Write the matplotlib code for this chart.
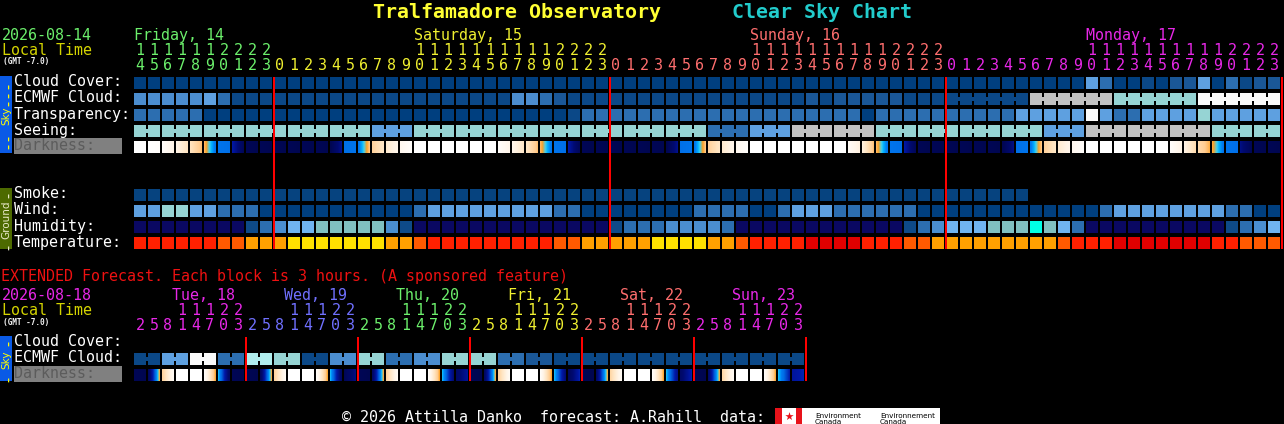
import numpy as np
import matplotlib
matplotlib.use('Agg')
import matplotlib.pyplot as plt
from matplotlib.patches import Rectangle
from matplotlib.colors import LinearSegmentedColormap

MONO = 'DejaVu Sans Mono'
FS = 10.8

# ---------------- main chart: one block per hour, Fri 14h .. Mon 23h ----------------
day_names = ['Friday, 14', 'Saturday, 15', 'Sunday, 16', 'Monday, 17']
day_colors = ['#6cf06c', '#f0f030', '#ff6e6e', '#e828e8']
day_hours = [list(range(14, 24)), list(range(24)), list(range(24)), list(range(24))]

# cloud levels 0 (clear) .. 10 (overcast)
cloud_cover = [
    0, 0, 0, 0, 0, 0, 0, 0, 0, 0,
    0, 0, 0, 0, 0, 0, 0, 0, 0, 0, 0, 0, 0, 0, 0, 0, 0, 0, 0, 0, 0, 0, 0, 0,
    0, 0, 0, 0, 0, 0, 0, 0, 0, 0, 0, 0, 0, 0, 0, 0, 0, 0, 0, 0, 0, 0, 0, 0,
    0, 0, 0, 0, 0, 0, 0, 0, 0, 0, 5, 3, 0, 0, 1, 0, 2, 2, 5, 0, 3, 1, 2, 2,
]
ecmwf_cloud = [
    4, 4, 4, 4, 4, 5, 3, 1, 1, 1,
    1, 1, 1, 1, 1, 1, 1, 1, 1, 1, 1, 1, 1, 1, 1, 1, 1, 4, 4, 3, 2, 1, 1, 1,
    1, 1, 1, 1, 1, 1, 1, 1, 1, 1, 1, 1, 1, 1, 2, 1, 2, 2, 2, 2, 2, 1, 1, 1,
    1, 1, 1, 1, 1, 1, 9, 9, 9, 9, 9, 9, 7, 7, 7, 7, 7, 7, 10, 10, 10, 10, 10, 10,
]
ecmwf_runs = [1] * 58 + [6, 6, 6, 6]
transparency = [
    3, 3, 3, 3, 3, 0, 0, 0, 0, 0,
    0, 0, 0, 0, 0, 0, 0, 0, 0, 0, 0, 0, 0, 0, 0, 0, 0, 0, 0, 0, 0, 1, 3, 3,
    3, 3, 3, 3, 3, 3, 3, 3, 3, 3, 3, 3, 3, 3, 3, 3, 3, 3, 0, 3, 3, 3, 3, 3,
    3, 3, 3, 3, 3, 5, 5, 5, 5, 5, 10, 5, 3, 3, 5, 5, 5, 5, 7, 5, 5, 5, 5, 5,
]
seeing = [
    7, 7, 7, 7, 7, 7, 7, 7, 7, 7,
    7, 7, 7, 7, 7, 7, 7, 5, 5, 5, 7, 7, 7, 7, 7, 7, 7, 7, 7, 7, 7, 7, 7, 7,
    7, 7, 7, 7, 7, 7, 7, 3, 3, 3, 5, 5, 5, 9, 9, 9, 9, 9, 9, 7, 7, 7, 7, 7,
    7, 7, 7, 7, 7, 7, 7, 5, 5, 5, 9, 9, 9, 9, 9, 9, 9, 9, 9, 7, 7, 7, 7, 7,
]
seeing_runs = [2] + [3] * 26 + [2]

# darkness: (start, end) of each hour block, 0 = daylight .. 1 = full dark
darkness = [
    (0, 0), (0, 0.02), (0.03, 0.12), (0.12, 0.22), (0.22, 0.34), (0.34, 0.56),
    (0.56, 0.58), (0.72, 0.96), (0.97, 1), (0.97, 1),
    (0.97, 1), (0.97, 1), (0.97, 1), (0.97, 1), (1, 0.78), (0.58, 0.56),
    (0.56, 0.32), (0.3, 0.2), (0.18, 0.1), (0.08, 0.02), (0, 0), (0, 0),
    (0, 0), (0, 0), (0, 0), (0, 0), (0.02, 0.1), (0.1, 0.2), (0.2, 0.34),
    (0.34, 0.56), (0.56, 0.58), (0.72, 0.96), (0.97, 1), (0.97, 1),
    (0.97, 1), (0.97, 1), (0.97, 1), (0.97, 1), (1, 0.78), (0.58, 0.56),
    (0.56, 0.32), (0.3, 0.2), (0.18, 0.1), (0.08, 0.02), (0, 0), (0, 0),
    (0, 0), (0, 0), (0, 0), (0, 0), (0, 0), (0.04, 0.14), (0.14, 0.34),
    (0.34, 0.56), (0.56, 0.58), (0.72, 0.96), (0.97, 1), (0.97, 1),
    (0.97, 1), (0.97, 1), (0.97, 1), (0.97, 1), (1, 0.8), (0.58, 0.56),
    (0.56, 0.32), (0.3, 0.2), (0.18, 0.1), (0.08, 0.02), (0, 0), (0, 0),
    (0, 0), (0, 0), (0, 0), (0, 0), (0.02, 0.12), (0.12, 0.26), (0.26, 0.36),
    (0.36, 0.56), (0.56, 0.58), (0.8, 0.97), (0.97, 1), (0.97, 1),
]

smoke = [
    1, 1, 1, 1, 1, 1, 1, 1, 1, 1,
    1, 1, 1, 1, 1, 1, 1, 1, 1, 1, 1, 1, 1, 1, 1, 1, 1, 1, 1, 1, 1, 1, 1, 1,
    1, 1, 1, 1, 1, 1, 1, 1, 1, 1, 1, 1, 1, 1, 1, 1, 1, 1, 1, 1, 1, 1, 1, 1,
    1, 1, 1, 1, 1, 1,
]
wind = [
    2, 2, 3, 3, 2, 2, 1, 1, 1, 0,
    0, 0, 0, 0, 0, 0, 0, 0, 0, 0, 1, 2, 2, 2, 2, 2, 2, 2, 2, 2, 1, 1, 0, 0,
    0, 0, 0, 0, 0, 0, 1, 1, 1, 1, 0, 0, 1, 2, 2, 2, 1, 1, 1, 1, 1, 1, 0, 0,
    0, 0, 0, 0, 0, 0, 0, 0, 0, 0, 0, 1, 2, 2, 2, 2, 2, 2, 2, 2, 1, 1, 0, 0,
]
humidity = [
    0, 0, 0, 0, 0, 0, 0, 0, 1, 2,
    3, 4, 4, 5, 5, 5, 5, 5, 3, 1, 0, 0, 0, 0, 0, 0, 0, 0, 0, 0, 0, 0, 0, 0,
    1, 2, 2, 2, 3, 3, 3, 3, 2, 0, 0, 0, 0, 0, 0, 0, 0, 0, 0, 0, 0, 1, 2, 3,
    4, 4, 4, 5, 5, 5, 6, 5, 4, 2, 0, 0, 0, 0, 0, 0, 0, 0, 0, 0, 1, 2, 3, 4,
]
temperature = [
    1, 1, 1, 1, 1, 1, 2, 2, 3, 3,
    3, 4, 4, 4, 4, 4, 4, 4, 3, 3, 2, 1, 1, 1, 1, 1, 1, 1, 1, 1, 2, 2, 3, 3,
    3, 3, 3, 4, 4, 4, 4, 3, 3, 2, 1, 1, 1, 1, 0, 0, 0, 0, 1, 1, 1, 2, 2, 3,
    3, 3, 3, 3, 3, 3, 3, 3, 2, 1, 1, 1, 0, 0, 0, 0, 0, 0, 0, 1, 1, 2, 2, 2,
]

# ---------------- extended chart: one block per 3 hours ----------------
ext_day_names = ['Tue, 18', 'Wed, 19', 'Thu, 20', 'Fri, 21', 'Sat, 22', 'Sun, 23']
ext_day_colors = ['#e828e8', '#7070ff', '#6cf06c', '#f0f030', '#ff6e6e', '#e828e8']
ext_hours = [2, 5, 8, 11, 14, 17, 20, 23]
ext_ecmwf_6h = [1, 5, 10, 3, 8, 7, 1, 4, 7, 3, 4, 7, 7, 3, 2, 1, 1, 1, 1, 1, 1, 1, 1, 1]
ext_darkness = [
    (0.97, 1), (0.95, 0.36), (0.3, 0.05), (0, 0), (0, 0), (0.02, 0.38), (0.46, 0.92), (0.97, 1),
    (0.97, 1), (0.95, 0.36), (0.3, 0.05), (0, 0), (0, 0), (0.02, 0.38), (0.46, 0.92), (0.97, 0.8),
    (0.97, 1), (0.93, 0.36), (0.3, 0.05), (0, 0), (0, 0), (0.02, 0.38), (0.46, 0.85), (0.9, 0.75),
    (0.97, 1), (0.93, 0.36), (0.3, 0.05), (0, 0), (0, 0), (0.02, 0.38), (0.46, 0.85), (0.95, 0.7),
    (0.97, 1), (0.9, 0.36), (0.28, 0.05), (0, 0), (0, 0), (0.02, 0.38), (0.46, 0.8), (0.9, 0.7),
    (0.97, 1), (0.9, 0.36), (0.28, 0.05), (0, 0), (0, 0), (0.02, 0.38), (0.46, 0.72), (0.75, 0.7),
]

# ---------------- palettes ----------------
cloud_pal = ['#003f7f', '#0b4887', '#1a5797', '#2c6eb0', '#4b8dcf', '#5ea0e0',
             '#79b4e6', '#96d4d4', '#b0eeee', '#c2c2c2', '#fafafa']
smoke_pal = ['#003f7f', '#06437f']
wind_pal = ['#003f7f', '#2c6eb0', '#5ea0e0', '#96d4d4']
hum_pal = ['#0a0862', '#0e4a88', '#2c6eb0', '#4a8ed0', '#70b4f0', '#80c0c0', '#00ffe6']
temp_pal = ['#e00000', '#ff2000', '#ff5a00', '#ffa000', '#ffe000']
dark_cmap = LinearSegmentedColormap.from_list('dark', [
    (0.00, '#ffffff'), (0.12, '#fff4e6'), (0.22, '#ffe4c0'), (0.32, '#ffcc90'),
    (0.38, '#ffa020'), (0.44, '#40d0f0'), (0.48, '#00b0ff'), (0.54, '#0078f0'),
    (0.58, '#0070e8'), (0.72, '#0018a8'), (0.85, '#000a70'), (1.00, '#000650')])

X0, PITCH, CELL = 134, 14, 12
ROW0, RPITCH = 77, 16
EXT_ROW0 = 337


def col_x(k):
    return X0 + k * PITCH


fig = plt.figure(figsize=(12.84, 4.24), dpi=100, facecolor='black')
ax = fig.add_axes([0, 0, 1, 1])
ax.set_facecolor('black')


def txt(x, y, s, color='white', size=FS, **kw):
    kw.setdefault('family', MONO)
    kw.setdefault('va', 'baseline')
    ax.text(x, y, s, color=color, fontsize=size, **kw)


def draw_cells(values, palette, top, runs=None):
    if runs is None:
        runs = [1] * len(values)
    k = 0
    for n in runs:
        for i in range(k, k + n):
            if i >= len(values):
                continue
            c = palette[values[i]]
            ax.add_patch(Rectangle((col_x(i), top), CELL, CELL, color=c, lw=0))
            if i < k + n - 1:
                ax.add_patch(Rectangle((col_x(i) + CELL, top + 4), PITCH - CELL, 4, color=c, lw=0))
        k += n


def draw_dark(blocks, top):
    for i, (a, b) in enumerate(blocks):
        grad = np.linspace(a, b, 24).reshape(1, -1)
        ax.imshow(grad, cmap=dark_cmap, vmin=0, vmax=1, aspect='auto', interpolation='bilinear',
                  extent=(col_x(i), col_x(i) + CELL, top + CELL, top))


# title
txt(373, 18.5, 'Tralfamadore Observatory', '#ffff33', 14.3, weight='bold')
txt(732, 18.5, 'Clear Sky Chart', '#22cccc', 14.3, weight='bold')

# main header
txt(2, 40, '2026-08-14', day_colors[0])
txt(2, 55, 'Local Time', '#d4d400')
txt(3, 64, '(GMT -7.0)', '#f0f0f0', 5.6, weight='bold')
k = 0
for name, color, hours in zip(day_names, day_colors, day_hours):
    first = next((j for j, h in enumerate(hours) if h >= 10), 0)
    txt(col_x(k + first), 40, name, color)
    for j, h in enumerate(hours):
        cx = col_x(k + j) + CELL / 2
        if h >= 10:
            txt(cx, 55, str(h // 10), color, ha='center')
        txt(cx, 70, str(h % 10), color, ha='center')
    k += len(hours)

# main rows
labels = ['Cloud Cover:', 'ECMWF Cloud:', 'Transparency:', 'Seeing:']
for r, lab in enumerate(labels):
    txt(14, ROW0 + r * RPITCH + 9.5, lab)
ax.add_patch(Rectangle((14, ROW0 + 4 * RPITCH - 3), 108, 15.5, color='#808080', lw=0))
txt(14, ROW0 + 4 * RPITCH + 9.5, 'Darkness:', '#5c5c5c')
for r, lab in zip([7, 8, 9, 10], ['Smoke:', 'Wind:', 'Humidity:', 'Temperature:']):
    txt(14, ROW0 + r * RPITCH + 9.5, lab)

draw_cells(cloud_cover, cloud_pal, ROW0)
draw_cells(ecmwf_cloud, cloud_pal, ROW0 + RPITCH, ecmwf_runs)
draw_cells(transparency, cloud_pal, ROW0 + 2 * RPITCH)
draw_cells(seeing, cloud_pal, ROW0 + 3 * RPITCH, seeing_runs)
draw_dark(darkness, ROW0 + 4 * RPITCH)
draw_cells(smoke, smoke_pal, ROW0 + 7 * RPITCH)
draw_cells(wind, wind_pal, ROW0 + 8 * RPITCH)
draw_cells(humidity, hum_pal, ROW0 + 9 * RPITCH)
draw_cells(temperature, temp_pal, ROW0 + 10 * RPITCH)

# side tags
ax.add_patch(Rectangle((0, 76), 12, 77, color='#0a5ae6', lw=0))
txt(6.5, 93, '---', '#ffff00', rotation=90, ha='center', va='center')
txt(6.5, 115.5, 'Sky', '#ffff00', 7.5, family='DejaVu Sans', rotation=90, ha='center', va='center')
txt(6.5, 140, '--', '#ffff00', rotation=90, ha='center', va='center')
ax.add_patch(Rectangle((0, 188), 12, 61, color='#4d6a00', lw=0))
txt(6.5, 193, '-', '#e8e8c8', rotation=90, ha='center', va='center')
txt(6.5, 220, 'Ground', '#e8e8c8', 7.5, family='DejaVu Sans', rotation=90, ha='center', va='center')
txt(6.5, 245.5, '-', '#e8e8c8', rotation=90, ha='center', va='center')

# midnight lines
k = 0
for hours in day_hours:
    k += len(hours)
    ax.add_patch(Rectangle((col_x(k) - 1.3, ROW0), 2.6, 172, color='#ff0000', lw=0))

# extended section
txt(1, 281, 'EXTENDED Forecast. Each block is 3 hours. (A sponsored feature)', '#ee1111')
txt(2, 300, '2026-08-18', ext_day_colors[0])
txt(2, 315, 'Local Time', '#d4d400')
txt(3, 325, '(GMT -7.0)', '#f0f0f0', 5.6, weight='bold')
for d, (name, color) in enumerate(zip(ext_day_names, ext_day_colors)):
    k = d * len(ext_hours)
    txt(col_x(k + 3) - 4.5, 300, name, color)
    for j, h in enumerate(ext_hours):
        cx = col_x(k + j) + CELL / 2
        if h >= 10:
            txt(cx, 315, str(h // 10), color, ha='center')
        txt(cx, 330.5, str(h % 10), color, ha='center')

txt(14, EXT_ROW0 + 9.5, 'Cloud Cover:')
txt(14, EXT_ROW0 + RPITCH + 9.5, 'ECMWF Cloud:')
ax.add_patch(Rectangle((14, EXT_ROW0 + 2 * RPITCH - 3), 108, 15.5, color='#808080', lw=0))
txt(14, EXT_ROW0 + 2 * RPITCH + 9.5, 'Darkness:', '#5c5c5c')

ext_ecmwf = [v for v in ext_ecmwf_6h for _ in range(2)]
draw_cells(ext_ecmwf, cloud_pal, EXT_ROW0 + RPITCH, [2] * len(ext_ecmwf_6h))
draw_dark(ext_darkness, EXT_ROW0 + 2 * RPITCH)

ax.add_patch(Rectangle((0, 336), 12, 45, color='#0a5ae6', lw=0))
txt(6.5, 341.5, '-', '#ffff00', rotation=90, ha='center', va='center')
txt(6.5, 359.5, 'Sky', '#ffff00', 7.5, family='DejaVu Sans', rotation=90, ha='center', va='center')
txt(6.5, 377, '-', '#ffff00', rotation=90, ha='center', va='center')

for d in range(1, len(ext_day_names) + 1):
    ax.add_patch(Rectangle((col_x(d * len(ext_hours)) - 1.3, EXT_ROW0), 2.6, 44, color='#ff0000', lw=0))

# footer
txt(342, 422, '\u00a9 2026 Attilla Danko  forecast: A.Rahill  data:')
ax.add_patch(Rectangle((775, 408), 165, 16, color='white', lw=0))
ax.add_patch(Rectangle((775, 408), 6.5, 16, color='#e8121a', lw=0))
ax.add_patch(Rectangle((795.5, 408), 6.5, 16, color='#e8121a', lw=0))
ax.scatter([788.5], [416], marker='*', s=40, color='#e8121a', lw=0)
txt(815, 418, 'Environment', 'black', 5.2, family='DejaVu Sans')
txt(815, 424, 'Canada', 'black', 5.2, family='DejaVu Sans')
txt(880, 418, 'Environnement', 'black', 5.2, family='DejaVu Sans')
txt(880, 424, 'Canada', 'black', 5.2, family='DejaVu Sans')

ax.set_xlim(0, 1284)
ax.set_ylim(424, 0)
ax.axis('off')
fig.savefig('out.png', dpi=100, facecolor='black')
